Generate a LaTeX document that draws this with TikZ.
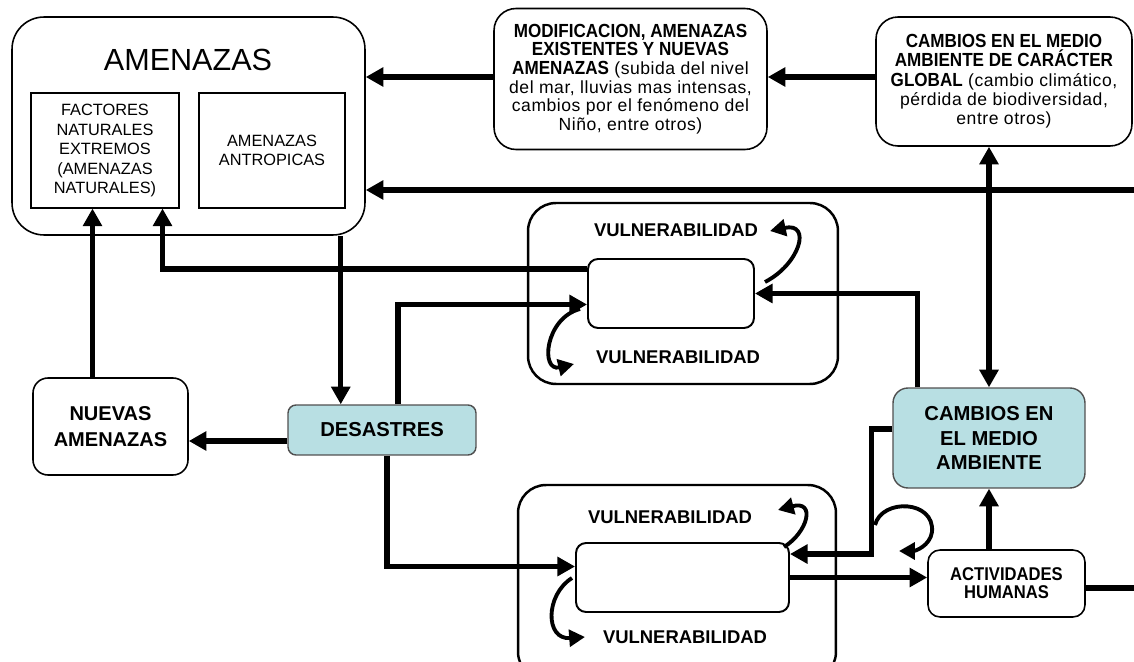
\documentclass[tikz,border=0pt]{standalone}
\usepackage{fontspec}
\setmainfont{Liberation Sans}
\newfontfamily\narrowsf[FakeStretch=0.9]{Liberation Sans}
\newfontfamily\spacedsf[LetterSpace=3]{Liberation Sans}
\newcommand\hdline[1]{{\narrowsf\bfseries\fontsize{10.8}{10.6}\selectfont #1}}
\usetikzlibrary{positioning, arrows.meta, calc}
\definecolor{celeste}{HTML}{B8DFE3}
\definecolor{bordegris}{HTML}{505050}

\begin{document}
\begin{tikzpicture}[x=0.02cm, y=-0.02cm,
    rbox/.style={draw, line width=0.9pt, rounded corners=0.44cm, align=center, inner sep=1pt},
    sqbox/.style={draw, line width=0.6pt, align=center, minimum height=2.3cm, font=\fontsize{9.3}{11.1}\selectfont},
    vulbox/.style={draw, line width=1.4pt, rounded corners=0.56cm},
    corebox/.style={draw, fill=white, line width=1.1pt, rounded corners=0.2cm, minimum height=1.38cm},
    bluebox/.style={draw=bordegris, fill=celeste, line width=0.8pt, rounded corners=0.3cm, align=center, font=\bfseries\fontsize{11.5}{13.8}\selectfont},
    tag/.style={font=\bfseries\fontsize{10.5}{12}\selectfont},
    arr/.style={line width=3pt, -{Triangle[length=10pt,width=10.5pt]}},
    dblarr/.style={line width=3pt, {Triangle[length=10pt,width=10.5pt]}-{Triangle[length=10pt,width=10.5pt]}},
    curl/.style={line width=2.2pt, -{Triangle[length=9pt,width=9.5pt]}}
]
\clip (0,0) rectangle (1134,662);

\node[rbox, rounded corners=0.64cm, minimum width=7.06cm, minimum height=4.36cm] (amen) at (188.5,126) {};
\node[font=\fontsize{17.4}{20}\selectfont] (amenT) at (188,60) {AMENAZAS};
\node[sqbox, minimum width=2.96cm] (fact) at (105,150.5) {FACTORES\\ NATURALES\\ EXTREMOS\\ (AMENAZAS\\ NATURALES)};
\node[sqbox, minimum width=2.92cm] (antr) at (272,150.5) {AMENAZAS\\ ANTROPICAS};

\node[rbox, minimum width=5.46cm, minimum height=2.82cm, font=\spacedsf\fontsize{10}{10.6}\selectfont] (modif) at (630.5,79) {\hdline{MODIFICACION, AMENAZAS}\\ \hdline{EXISTENTES Y NUEVAS}\\ \hdline{AMENAZAS} (subida del nivel\\ del mar, lluvias mas intensas,\\ cambios por el fenómeno del\\ Niño, entre otros)};
\node[rbox, minimum width=5.12cm, minimum height=2.58cm, font=\spacedsf\fontsize{10}{11}\selectfont] (global) at (1004,81.5) {\hdline{CAMBIOS EN EL MEDIO}\\ \hdline{AMBIENTE DE CARÁCTER}\\ \hdline{GLOBAL} (cambio climático,\\ pérdida de biodiversidad,\\ entre otros)};

\node[vulbox, minimum width=6.2cm, minimum height=3.62cm] (vulA) at (683,293.5) {};
\node[vulbox, minimum width=6.36cm, minimum height=3.9cm] (vulB) at (677,582.5) {};
\node[corebox, minimum width=3.32cm] (coreA) at (671,293.5) {};
\node[corebox, minimum width=4.26cm] (coreB) at (682.5,577.5) {};

\node[rbox, rounded corners=0.3cm, minimum width=3.1cm, minimum height=1.94cm, font=\bfseries\fontsize{11.4}{14.6}\selectfont] (nuevas) at (110.5,426.5) {NUEVAS\\ AMENAZAS};
\node[bluebox, rounded corners=0.16cm, minimum width=3.76cm, minimum height=1cm] (desas) at (382,430) {DESASTRES};
\node[bluebox, minimum width=3.84cm, minimum height=2cm] (cambios) at (989,438) {CAMBIOS EN\\ EL MEDIO\\ AMBIENTE};
\node[rbox, rounded corners=0.24cm, minimum width=3.14cm, minimum height=1.34cm, font=\narrowsf\bfseries\fontsize{10.5}{10.4}\selectfont] (activ) at (1006.5,583.5) {ACTIVIDADES\\ HUMANAS};

\coordinate (rim) at (1134,190);

\draw[arr] ($(modif.west)+(0,-2)$) coordinate (m1) -- (m1 -| amen.east);
\draw[arr] (global.west |- m1) -- (m1 -| modif.east);
\draw[arr] (rim) -- (rim -| amen.east);
\draw[dblarr] (cambios.north) -- (cambios.north |- global.south);
\draw[arr] ($(coreA.north west)+(0,11)$) -| ($(fact.south east)+(-17,0)$);
\draw[arr] ($(nuevas.north)+(-18,0)$) coordinate (n1) -- (n1 |- fact.south);
\draw[arr] ($(amen.south east)+(-25,0)$) coordinate (a1) -- (a1 |- desas.north);
\draw[arr] ($(desas.west)+(0,11)$) coordinate (d1) -- (d1 -| nuevas.east);
\draw[arr] ($(desas.north)+(16,0)$) |- ($(coreA.west)+(0,11)$);
\draw[arr] ($(desas.south)+(5,0)$) |- ($(coreB.west)+(0,-11)$);
\draw[arr] ($(cambios.north west)+(25,0)$) |- (coreA.east);
\draw[arr] ($(cambios.west)+(0,-9)$) -- ++(-21,0) |- ($(coreB.north east)+(0,12)$);
\draw[arr] (activ.north -| cambios.south) -- (cambios.south);
\draw[arr] (coreB.east) -- (coreB.east -| activ.west);
\draw[line width=3pt] ($(activ.east)+(0,4.5)$) coordinate (a2) -- (a2 -| rim);

\node[tag] (vulA1) at (676,230) {VULNERABILIDAD};
\node[tag] (vulA2) at (678,357) {VULNERABILIDAD};
\node[tag] (vulB1) at (670,517) {VULNERABILIDAD};
\node[tag] (vulB2) at (685,637) {VULNERABILIDAD};

\draw[curl] (765,282) .. controls (800,264) and (812,222) .. (770,231);
\draw[curl] (580,309) .. controls (545,318) and (540,372) .. (574,364);
\draw[curl] (784,547) .. controls (808,532) and (816,500) .. (778,510);
\draw[curl] (572,578) .. controls (545,595) and (545,640) .. (585,637);
\draw[curl] (875,525) .. controls (882,498) and (935,500) .. (932,532) .. controls (930,546) and (915,551) .. (899,551);
\end{tikzpicture}
\end{document}
